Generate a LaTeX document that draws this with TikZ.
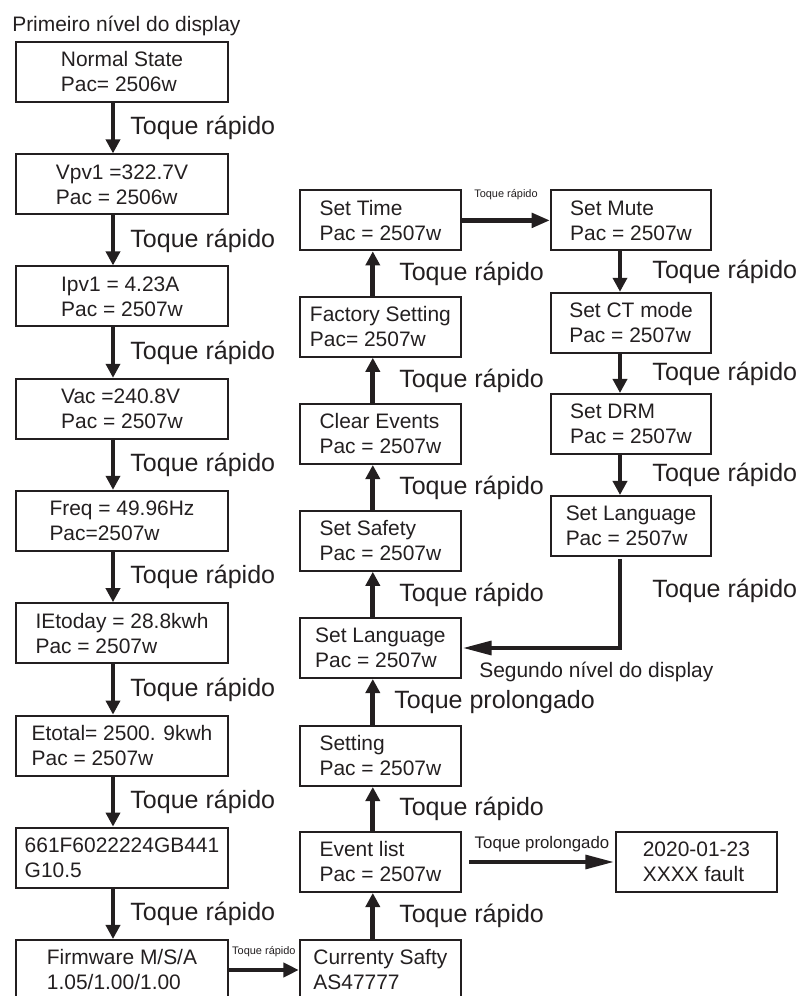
\documentclass[tikz,border=0pt]{standalone}
\usepackage{fontspec}
\setmainfont{Liberation Sans}
\usetikzlibrary{arrows.meta}
\definecolor{ink}{HTML}{231F20}

\begin{document}
\begin{tikzpicture}[
        box/.style={draw=ink, line width=1.4pt, align=left, minimum height=1.5cm, inner sep=0pt, text=ink, font=\fontsize{14.9}{17.8}\selectfont},
        flow/.style={draw=ink, line width=3.5pt, -{Triangle[length=10pt,width=10pt]}},
        tq/.style={text=ink, inner sep=0pt, anchor=west, font=\fontsize{17.8}{20}\selectfont},
        tqs/.style={text=ink, inner sep=0pt, font=\fontsize{7.8}{9}\selectfont},
        tql/.style={text=ink, inner sep=0pt, font=\fontsize{11.95}{13}\selectfont},
        txt/.style={text=ink, inner sep=0pt, anchor=base west, font=\fontsize{14.9}{17.8}\selectfont}
    ]
            \useasboundingbox (0,0) rectangle (20,24.9);
            \clip (0,0) rectangle (20,24.9);

            \node[txt] (Level_1) at (0.3,24.1) {Primeiro nível do display};

            \node[box, minimum width=5.3cm] (Normal) at (3.05,23.1) {Normal State\\Pac= 2506w};
            \node[box, minimum width=5.3cm] (Vpv) at (3.05,20.29) {Vpv1 =322.7V\\Pac = 2506w};
            \node[box, minimum width=5.3cm] (Ipv) at (3.05,17.49) {Ipv1 = 4.23A\\Pac = 2507w};
            \node[box, minimum width=5.3cm] (Vac) at (3.05,14.68) {Vac =240.8V\\Pac = 2507w};
            \node[box, minimum width=5.3cm] (Freq) at (3.05,11.88) {Freq = 49.96Hz\\Pac=2507w};
            \node[box, minimum width=5.3cm] (Etoday) at (3.05,9.07) {IEtoday = 28.8kwh\\Pac = 2507w};
            \node[box, minimum width=5.3cm] (Etotal) at (3.05,6.26) {Etotal= 2500. 9kwh\\Pac = 2507w};
            \node[box, minimum width=5.3cm] (Serial) at (3.05,3.46) {661F6022224GB441\\G10.5};
            \node[box, minimum width=5.3cm] (Firmware) at (3.05,0.65) {Firmware M/S/A\\1.05/1.00/1.00};

            \node[box, minimum width=4.03cm] (Set_Time) at (9.51,19.39) {Set Time\\Pac = 2507w};
            \node[box, minimum width=4.03cm] (Factory) at (9.51,16.73) {Factory Setting\\Pac= 2507w};
            \node[box, minimum width=4.03cm] (Clear) at (9.51,14.05) {Clear Events\\Pac = 2507w};
            \node[box, minimum width=4.03cm] (Set_Safety) at (9.51,11.38) {Set Safety\\Pac = 2507w};
            \node[box, minimum width=4.03cm] (Set_Lang) at (9.51,8.7) {Set Language\\Pac = 2507w};
            \node[box, minimum width=4.03cm] (Setting) at (9.51,6.0) {Setting\\Pac = 2507w};
            \node[box, minimum width=4.03cm] (Event) at (9.51,3.35) {Event list\\Pac = 2507w};
            \node[box, minimum width=4.03cm] (Safety_now) at (9.51,0.65) {Currenty Safty\\AS47777};

            \node[box, minimum width=4cm] (Set_Mute) at (15.775,19.39) {Set Mute\\Pac = 2507w};
            \node[box, minimum width=4cm] (Set_CT) at (15.775,16.83) {Set CT mode\\Pac = 2507w};
            \node[box, minimum width=4cm] (Set_DRM) at (15.775,14.3) {Set DRM\\Pac = 2507w};
            \node[box, minimum width=4cm] (Set_Lang_2) at (15.775,11.75) {Set Language\\Pac = 2507w};

            \node[box, minimum width=4.03cm] (Fault) at (17.41,3.35) {2020-01-23\\XXXX fault};

            \node[txt] (Level_2) at (11.975,7.95) {Segundo nível do display};

            \draw[flow] ([xshift=-0.225cm]Normal.south) -- node[tq, xshift=0.375cm] {Toque rápido} ([xshift=-0.225cm]Vpv.north);
            \draw[flow] ([xshift=-0.225cm]Vpv.south) -- node[tq, xshift=0.375cm] {Toque rápido} ([xshift=-0.225cm]Ipv.north);
            \draw[flow] ([xshift=-0.225cm]Ipv.south) -- node[tq, xshift=0.375cm] {Toque rápido} ([xshift=-0.225cm]Vac.north);
            \draw[flow] ([xshift=-0.225cm]Vac.south) -- node[tq, xshift=0.375cm] {Toque rápido} ([xshift=-0.225cm]Freq.north);
            \draw[flow] ([xshift=-0.225cm]Freq.south) -- node[tq, xshift=0.375cm] {Toque rápido} ([xshift=-0.225cm]Etoday.north);
            \draw[flow] ([xshift=-0.225cm]Etoday.south) -- node[tq, xshift=0.375cm] {Toque rápido} ([xshift=-0.225cm]Etotal.north);
            \draw[flow] ([xshift=-0.225cm]Etotal.south) -- node[tq, xshift=0.375cm] {Toque rápido} ([xshift=-0.225cm]Serial.north);
            \draw[flow] ([xshift=-0.225cm]Serial.south) -- node[tq, xshift=0.375cm] {Toque rápido} ([xshift=-0.225cm]Firmware.north);

            \draw[flow, -{Triangle[length=11pt,width=10pt]}] (Firmware.east) -- node[tqs, above=0.27cm] {Toque rápido} (Safety_now.west);

            \draw[flow] ([xshift=-0.19cm]Safety_now.north) -- node[tq, xshift=0.6cm] {Toque rápido} ([xshift=-0.19cm]Event.south);
            \draw[flow] ([xshift=-0.19cm]Event.north) -- node[tq, xshift=0.6cm] {Toque rápido} ([xshift=-0.19cm]Setting.south);
            \draw[flow] ([xshift=-0.19cm]Setting.north) -- node[tq, xshift=0.48cm] {Toque prolongado} ([xshift=-0.19cm]Set_Lang.south);
            \draw[flow] ([xshift=-0.19cm]Set_Lang.north) -- node[tq, xshift=0.6cm] {Toque rápido} ([xshift=-0.19cm]Set_Safety.south);
            \draw[flow] ([xshift=-0.19cm]Set_Safety.north) -- node[tq, xshift=0.6cm] {Toque rápido} ([xshift=-0.19cm]Clear.south);
            \draw[flow] ([xshift=-0.19cm]Clear.north) -- node[tq, xshift=0.6cm] {Toque rápido} ([xshift=-0.19cm]Factory.south);
            \draw[flow] ([xshift=-0.19cm]Factory.north) -- node[tq, xshift=0.6cm] {Toque rápido} ([xshift=-0.19cm]Set_Time.south);

            \draw[flow, -{Triangle[length=21pt,width=9.5pt]}] ([xshift=0.18cm]Event.east) -- node[tql, above=0.18cm] {Toque prolongado} (Fault.west);

            \draw[flow, -{Triangle[length=13pt,width=10pt]}] (Set_Time.east) -- node[tqs, above=0.45cm] {Toque rápido} (Set_Mute.west);

            \draw[flow] ([xshift=-0.275cm]Set_Mute.south) -- node[tq, xshift=0.75cm] {Toque rápido} ([xshift=-0.275cm]Set_CT.north);
            \draw[flow] ([xshift=-0.275cm]Set_CT.south) -- node[tq, xshift=0.75cm] {Toque rápido} ([xshift=-0.275cm]Set_DRM.north);
            \draw[flow] ([xshift=-0.275cm]Set_DRM.south) -- node[tq, xshift=0.75cm] {Toque rápido} ([xshift=-0.275cm]Set_Lang_2.north);

            \draw[flow, -{Triangle[length=21pt,width=9.5pt]}] ([xshift=-0.275cm, yshift=-0.05cm]Set_Lang_2.south) |- node[tq, pos=0.18, xshift=0.75cm] {Toque rápido} (Set_Lang.east);
        \end{tikzpicture}
\end{document}
